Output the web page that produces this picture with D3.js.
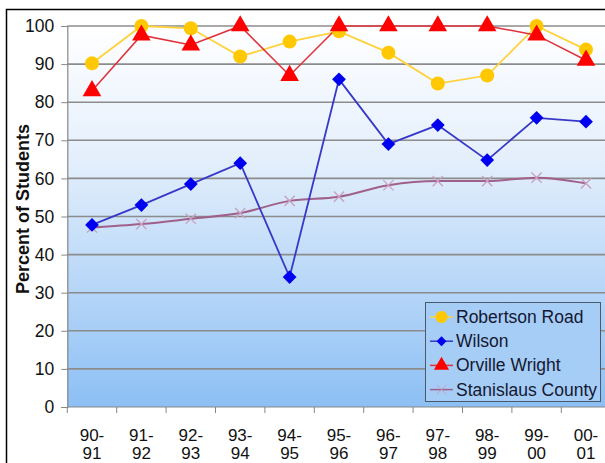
<!DOCTYPE html>
<html><head><meta charset="utf-8">
<script src="https://cdn.jsdelivr.net/npm/d3@7"></script>
<style>body{margin:0;background:#fff;}svg{display:block;font-family:Arial,"Liberation Sans",sans-serif;}</style>
</head><body>
<svg id="c" width="605" height="463"></svg>
<script>
const categories = ["90-91","91-92","92-93","93-94","94-95","95-96","96-97","97-98","98-99","99-00","00-01"];
const robertsonRoad = [90.2, 100, 99.4, 92, 95.9, 98.6, 93, 84.9, 87, 100, 93.8];
const wilson = [47.8, 53, 58.5, 64, 34.1, 86, 69, 74, 64.8, 75.9, 74.9];
const orvilleWright = [83, 97.6, 95, 100, 87, 100, 100, 100, 100, 97.6, 91];
const stanislausCounty = [47.1, 48, 49.4, 50.9, 54.1, 55.2, 58.2, 59.3, 59.3, 60.2, 58.7];
const yTicks = [0,10,20,30,40,50,60,70,80,90,100];
const seriesNames = ["Robertson Road","Wilson","Orville Wright","Stanislaus County"];

(function(){
const svg = d3.select("#c");
const pL = 67.3, pR = 610.7, pT = 26, pB = 407;
const x = d3.scalePoint().domain(categories).range([pL, pR]).padding(0.5);
const xb = d3.scaleBand().domain(categories).range([pL, pR]);
const y = d3.scaleLinear().domain([0,100]).range([pB, pT]);

// frame
svg.append("path").attr("d","M6.5,470 L6.5,9.5 L620,9.5").attr("fill","none").attr("stroke","#000").attr("stroke-width",1.5);

// gradient
const defs = svg.append("defs");
const g = defs.append("linearGradient").attr("id","bg").attr("x1",0).attr("y1",0).attr("x2",0).attr("y2",1);
g.append("stop").attr("offset","0%").attr("stop-color","#ffffff");
g.append("stop").attr("offset","35%").attr("stop-color","#e4effc");
g.append("stop").attr("offset","100%").attr("stop-color","#8cbff4");
svg.append("rect").attr("x",pL).attr("y",pT).attr("width",pR-pL).attr("height",pB-pT).attr("fill","url(#bg)");

// gridlines
svg.append("g").selectAll("line").data(yTicks.filter(d=>d>0)).join("line")
  .attr("x1",pL).attr("x2",pR).attr("y1",d=>y(d)).attr("y2",d=>y(d))
  .attr("stroke","#8c8c8c").attr("stroke-width",1.6);

// y axis
const ya = svg.append("g").attr("transform",`translate(${pL},0)`)
  .call(d3.axisLeft(y).tickValues(yTicks).tickSize(6).tickPadding(7));
ya.select(".domain").attr("stroke","#888").attr("stroke-width",1.2);
ya.selectAll(".tick line").attr("stroke","#888");
ya.selectAll("text").attr("font-size",17.5).attr("fill","#111");

// x axis
svg.append("line").attr("x1",pL).attr("x2",pR).attr("y1",pB).attr("y2",pB).attr("stroke","#888").attr("stroke-width",1.2);
svg.append("g").selectAll("line").data(categories.concat(["__end"])).join("line")
  .attr("x1",(d,i)=>pL + i*xb.step()).attr("x2",(d,i)=>pL + i*xb.step())
  .attr("y1",pB).attr("y2",pB+6).attr("stroke","#888");
const xl = svg.append("g").selectAll("text").data(categories).join("text")
  .attr("x",d=>x(d)).attr("text-anchor","middle").attr("font-size",17).attr("fill","#111");
xl.append("tspan").attr("x",d=>x(d)).attr("y",441).text(d=>d.split("-")[0]+"-");
xl.append("tspan").attr("x",d=>x(d)).attr("y",459).text(d=>d.split("-")[1]);

// y title
svg.append("text").attr("transform","translate(29,209) rotate(-90)").attr("text-anchor","middle")
  .attr("font-size",18).attr("font-weight","bold").attr("fill","#111").text("Percent of Students");

const line = d3.line().x((d,i)=>x(categories[i])).y(d=>y(d));
const smooth = d3.line().x((d,i)=>x(categories[i])).y(d=>y(d)).curve(d3.curveMonotoneX);

// Stanislaus
svg.append("path").datum(stanislausCounty).attr("d",smooth).attr("fill","none").attr("stroke","#a0608a").attr("stroke-width",2);
const cross = d3.symbol().type(d3.symbolX).size(70);
svg.append("g").selectAll("path").data(stanislausCounty).join("path")
  .attr("transform",(d,i)=>`translate(${x(categories[i])},${y(d)})`).attr("d",cross)
  .attr("stroke","#c8a0c0").attr("stroke-width",1.3).attr("fill","none");

// Robertson
svg.append("path").datum(robertsonRoad).attr("d",line).attr("fill","none").attr("stroke","#ffd23a").attr("stroke-width",1.8);
// Orville
svg.append("path").datum(orvilleWright).attr("d",line).attr("fill","none").attr("stroke","#e0303a").attr("stroke-width",1.5);
// Wilson
svg.append("path").datum(wilson).attr("d",line).attr("fill","none").attr("stroke","#3838c8").attr("stroke-width",1.8);

svg.append("g").selectAll("circle").data(robertsonRoad).join("circle")
  .attr("cx",(d,i)=>x(categories[i])).attr("cy",d=>y(d)).attr("r",7).attr("fill","#ffc800");
const tri = d3.symbol().type(d3.symbolTriangle).size(150);
svg.append("g").selectAll("path").data(orvilleWright).join("path")
  .attr("transform",(d,i)=>`translate(${x(categories[i])},${y(d)})`).attr("d",tri).attr("fill","#ff0000");
const dia = d3.symbol().type(d3.symbolSquare).size(95);
svg.append("g").selectAll("path").data(wilson).join("path")
  .attr("transform",(d,i)=>`translate(${x(categories[i])},${y(d)}) rotate(45)`).attr("d",dia).attr("fill","#0000f0");

// legend
const lg = svg.append("g");
lg.append("rect").attr("x",425.5).attr("y",302.5).attr("width",175).attr("height",99)
  .attr("fill","#a6cdf6").attr("stroke","#4a5a6a").attr("stroke-width",1);
const lcolors = ["#ffd23a","#3838c8","#e0303a","#a0608a"];
seriesNames.forEach((n,i)=>{
  const yy = 317 + i*24.2;
  lg.append("line").attr("x1",430).attr("x2",453).attr("y1",yy).attr("y2",yy).attr("stroke",lcolors[i]).attr("stroke-width",1.5);
  const cx = 441.5;
  if(i===0) lg.append("circle").attr("cx",cx).attr("cy",yy).attr("r",6).attr("fill","#ffc800");
  if(i===1) lg.append("path").attr("transform",`translate(${cx},${yy}) rotate(45)`).attr("d",d3.symbol().type(d3.symbolSquare).size(50)).attr("fill","#0000f0");
  if(i===2) lg.append("path").attr("transform",`translate(${cx},${yy})`).attr("d",d3.symbol().type(d3.symbolTriangle).size(100)).attr("fill","#ff0000");
  if(i===3) lg.append("path").attr("transform",`translate(${cx},${yy})`).attr("d",d3.symbol().type(d3.symbolX).size(60)).attr("stroke","#c8a0c0").attr("fill","none");
  lg.append("text").attr("x",456).attr("y",yy+6).attr("font-size",17.5).attr("fill","#141832").text(n);
});
})();
</script>
</body></html>
